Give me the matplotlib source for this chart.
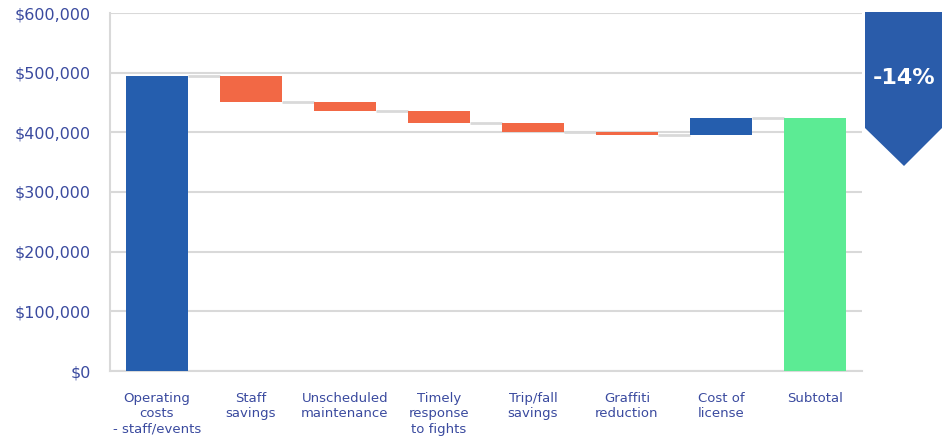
import matplotlib
matplotlib.use("Agg")
import matplotlib.pyplot as plt
from matplotlib.patches import Polygon
import numpy as np

categories = ["Operating\ncosts\n- staff/events", "Staff\nsavings", "Unscheduled\nmaintenance",
              "Timely\nresponse\nto fights", "Trip/fall\nsavings", "Graffiti\nreduction",
              "Cost of\nlicense", "Subtotal"]
start_value = 494000
changes = [-43000, -15000, -20000, -15500, -5000, 29000]
yticks = [0, 100000, 200000, 300000, 400000, 500000, 600000]
ytick_labels = ["$0", "$100,000", "$200,000", "$300,000", "$400,000", "$500,000", "$600,000"]
badge_text = "-14%"

c_total = "#255eae"
c_dec = "#f26845"
c_inc = "#255eae"
c_sub = "#5ceb94"
c_text = "#3a4a9f"
c_grid = "#d9d9d9"

levels = [start_value] + list(start_value + np.cumsum(changes))
subtotal = levels[-1]

bottoms, heights, colors = [0], [start_value], [c_total]
for i, ch in enumerate(changes):
    prev = levels[i]
    new = levels[i + 1]
    bottoms.append(min(prev, new))
    heights.append(abs(ch))
    colors.append(c_dec if ch < 0 else c_inc)
bottoms.append(0)
heights.append(subtotal)
colors.append(c_sub)

fig = plt.figure(figsize=(9.48, 4.38), dpi=100)
ax = fig.add_axes([110 / 948, 1 - 371 / 438, (862 - 110) / 948, (371 - 13) / 438])

x = np.arange(len(categories))
width = 0.65
ax.bar(x, heights, bottom=bottoms, width=width, color=colors, zorder=3)

# connectors
for i in range(len(categories) - 1):
    ax.plot([x[i] + width / 2, x[i + 1] - width / 2], [levels[i], levels[i]],
            color=c_grid, lw=2, zorder=2, solid_capstyle="butt")

ax.set_xlim(-0.5, len(categories) - 0.5)
ax.set_ylim(0, 600000)
ax.set_yticks(yticks)
ax.set_yticklabels(ytick_labels, fontsize=11.5, color=c_text)
ax.set_xticks(x)
ax.set_xticklabels(categories, fontsize=9.5, color=c_text, linespacing=1.25)
ax.tick_params(axis="y", length=0, pad=14)
ax.tick_params(axis="x", length=0, pad=15)
ax.yaxis.grid(True, color=c_grid, lw=1.5, zorder=0)
ax.set_axisbelow(True)
for s in ["top", "right"]:
    ax.spines[s].set_visible(False)
for s in ["left", "bottom"]:
    ax.spines[s].set_color(c_grid)
    ax.spines[s].set_linewidth(1.5)

# badge
W, H = 948, 438
pts = [(865, 12), (942, 12), (942, 128), (904, 166), (865, 128)]
pts = [(px / W, 1 - py / H) for px, py in pts]
fig.patches.append(Polygon(pts, closed=True, transform=fig.transFigure,
                           facecolor="#2a5caa", edgecolor="none"))
fig.text(904 / W, 1 - 78 / H, badge_text, color="white", fontsize=16,
         fontweight="bold", ha="center", va="center")

fig.savefig("out.png", dpi=100)
